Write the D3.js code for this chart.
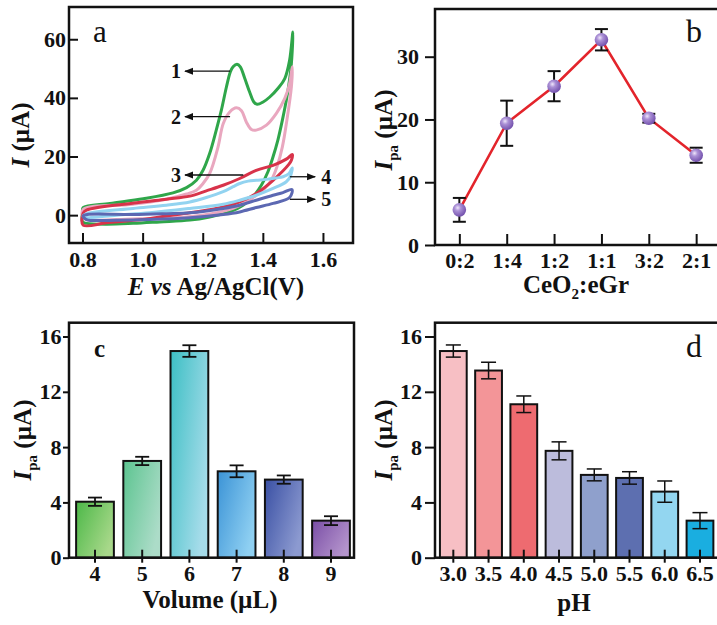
<!DOCTYPE html>
<html><head><meta charset="utf-8">
<script src="https://cdn.jsdelivr.net/npm/d3@7"></script>
<style>
body{margin:0;background:#fff}
svg{display:block}
text{font-family:"Liberation Serif","Times New Roman",serif}
</style>
</head><body>
<svg id="chart" width="717" height="625"></svg>
<script>
// ---------------- DATA ----------------
// Panel a: cyclic voltammograms, [E (V), I (µA)] forward scan then reverse scan
const cvLabels = ["1", "2", "3", "4", "5"];
const cvColors = ["#2fa64a", "#e9a7bf", "#d8334a", "#92d3f0", "#5c68b2"];
const cv1 = [[0.80,-2.3],[0.80,1.0],[0.802,2.6],[0.891,4.0],[1.002,5.6],[1.101,7.6],[1.146,9.4],[1.179,11.9],[1.201,15.3],[1.223,21.0],[1.245,29.0],[1.262,35.8],[1.279,43.8],[1.292,48.9],[1.301,50.6],[1.314,51.5],[1.325,50.6],[1.340,46.6],[1.356,42.0],[1.370,38.6],[1.381,37.8],[1.401,38.6],[1.423,40.3],[1.450,43.2],[1.473,46.6],[1.489,52.8],[1.500,62.5],[1.494,50.6],[1.480,40.3],[1.465,32.4],[1.450,25.6],[1.434,19.9],[1.417,14.8],[1.395,10.2],[1.367,6.25],[1.334,3.4],[1.290,1.1],[1.223,-0.6],[1.157,-1.7],[1.057,-2.3],[0.968,-2.8],[0.880,-3.1],[0.813,-2.8]];
const cv2 = [[0.802,-0.6],[0.802,1.9],[0.968,3.75],[1.079,5.45],[1.146,7.2],[1.179,8.5],[1.201,10.8],[1.223,14.2],[1.251,23.3],[1.268,31.2],[1.290,35.2],[1.312,36.6],[1.329,35.6],[1.345,31.8],[1.362,29.2],[1.378,29.0],[1.412,30.7],[1.445,34.7],[1.473,39.8],[1.489,44.9],[1.498,50.6],[1.495,43.75],[1.480,32.4],[1.465,23.3],[1.447,16.5],[1.428,11.9],[1.406,9.1],[1.378,6.8],[1.345,4.5],[1.301,2.3],[1.234,0.6],[1.146,-0.6],[1.024,-1.1],[0.913,-1.5],[0.813,-1.5]];
const cv3 = [[0.802,0.6],[0.813,1.7],[0.980,4.2],[1.079,5.45],[1.157,6.5],[1.212,8.3],[1.268,10.2],[1.323,12.5],[1.378,15.3],[1.434,17.0],[1.478,19.1],[1.498,20.7],[1.495,18.75],[1.487,17.4],[1.434,11.9],[1.378,7.4],[1.323,4.5],[1.268,2.8],[1.212,1.7],[1.157,0.8],[1.079,-0.3],[0.980,-1.7],[0.880,-2.6],[0.802,-3.4]];
const cv4 = [[0.802,-0.3],[0.816,0.6],[0.968,2.3],[1.079,3.4],[1.157,4.5],[1.212,6.0],[1.268,8.0],[1.301,9.7],[1.323,10.8],[1.351,11.6],[1.378,11.9],[1.412,12.2],[1.445,12.7],[1.467,13.1],[1.487,14.2],[1.498,16.1],[1.491,13.1],[1.478,11.4],[1.434,9.1],[1.378,6.8],[1.323,5.1],[1.268,3.75],[1.157,2.3],[1.024,0.8],[0.913,0.0],[0.813,-0.8]];
const cv5 = [[0.802,-0.3],[0.816,0.2],[0.968,0.2],[1.079,0.5],[1.157,0.8],[1.268,2.3],[1.323,3.4],[1.378,5.1],[1.434,6.8],[1.467,7.7],[1.497,8.75],[1.489,6.0],[1.434,4.0],[1.378,2.6],[1.323,1.1],[1.268,0.2],[1.157,-0.9],[1.024,-1.5],[0.913,-1.7],[0.813,-1.5]];
const cvData = [cv1, cv2, cv3, cv4, cv5];
const aTicksX = [0.8, 1.0, 1.2, 1.4, 1.6];
const aTicksY = [0, 20, 40, 60];

// Panel b: CeO2:eGr ratio
const ratioCats = ["0:2", "1:4", "1:2", "1:1", "3:2", "2:1"];
const ratioVals = [5.6, 19.4, 25.3, 32.7, 20.2, 14.3];
const ratioErr  = [1.9, 3.6, 2.4, 1.7, 0.7, 1.2];
const bTicksY = [0, 10, 20, 30];

// Panel c: volume
const volCats = ["4", "5", "6", "7", "8", "9"];
const volVals = [4.05, 7.0, 14.95, 6.25, 5.65, 2.68];
const volErr  = [0.3, 0.3, 0.42, 0.43, 0.3, 0.32];
const volColorsDark  = ["#4cb848", "#5cc490", "#3cbfc4", "#3b93d6", "#3a50a4", "#7a4ea6"];
const volColorsLight = ["#a8d88a", "#acdcc8", "#a6dcea", "#8fd0f2", "#8c9ad0", "#b494cc"];

// Panel d: pH
const phCats = ["3.0", "3.5", "4.0", "4.5", "5.0", "5.5", "6.0", "6.5"];
const phVals = [14.95, 13.54, 11.1, 7.73, 5.99, 5.77, 4.78, 2.68];
const phErr  = [0.44, 0.6, 0.6, 0.65, 0.43, 0.45, 0.77, 0.58];
const phColors = ["#f7bfc4", "#f39598", "#ee6b70", "#bcbcdc", "#8fa0cc", "#5d6fb0", "#93d6f0", "#1aaee0"];
const cdTicksY = [0, 4, 8, 12, 16];

// ---------------- DRAW ----------------
const svg = d3.select("#chart");
const defs = svg.append("defs");
const TICKFONT = "22px";
const TITLEFONT = "25px";

defs.append("marker").attr("id","arrow").attr("viewBox","0 0 10 10")
  .attr("refX",9).attr("refY",5).attr("markerWidth",9).attr("markerHeight",9)
  .attr("markerUnits","userSpaceOnUse").attr("orient","auto")
  .append("path").attr("d","M0,1 L10,5 L0,9 Z").attr("fill","#111");

function styleAxis(g){
  g.select(".domain").remove();
  g.selectAll(".tick line").attr("stroke","#111").attr("stroke-width",2);
  g.selectAll(".tick text").attr("fill","#111").style("font-size",TICKFONT)
   .style("font-weight","bold").style("font-family",'"Liberation Serif",serif');
}
function frame(x0,y0,x1,y1){
  svg.append("rect").attr("x",x0).attr("y",y0).attr("width",x1-x0).attr("height",y1-y0)
    .attr("fill","none").attr("stroke","#111").attr("stroke-width",2.5);
}
function ipaLabel(cx, cy){
  const t = svg.append("text").attr("transform",`translate(${cx},${cy}) rotate(-90)`)
    .attr("text-anchor","middle").style("font-size",TITLEFONT).style("font-weight","bold").attr("fill","#111");
  t.append("tspan").style("font-style","italic").text("I");
  t.append("tspan").style("font-size","15px").attr("dy",6).text("pa");
  t.append("tspan").attr("dy",-6).text(" (µA)");
}

// ===== Panel a =====
{
  const L=69, R=353, T=7, B=243;
  const x = d3.scaleLinear().domain([0.755, 1.70]).range([L, R]);
  const y = d3.scaleLinear().domain([-9.5, 71]).range([B, T]);
  const line = d3.line().x(d=>x(d[0])).y(d=>y(d[1])).curve(d3.curveCatmullRomClosed.alpha(0.5));
  const clip = defs.append("clipPath").attr("id","clipA");
  clip.append("rect").attr("x",L).attr("y",T).attr("width",R-L).attr("height",B-T);
  const gc = svg.append("g").attr("clip-path","url(#clipA)");
  cvData.forEach((d,i)=>{
    gc.append("path").attr("d",line(d)).attr("fill","none").attr("stroke",cvColors[i])
      .attr("stroke-width",3).attr("stroke-linejoin","round");
  });
  const gx = svg.append("g").attr("transform",`translate(0,${B})`)
    .call(d3.axisBottom(x).tickValues(aTicksX).tickFormat(d3.format(".1f")).tickSize(-10).tickPadding(8));
  styleAxis(gx);
  const gy = svg.append("g").attr("transform",`translate(${L},0)`)
    .call(d3.axisLeft(y).tickValues(aTicksY).tickSize(-9).tickPadding(3));
  styleAxis(gy);
  frame(L,T,R,B);
  // labels
  svg.append("text").attr("x",93).attr("y",42).style("font-size","31px").attr("fill","#111").text("a");
  const xt = svg.append("text").attr("x",(L+R)/2+5).attr("y",295).attr("text-anchor","middle")
    .style("font-size",TITLEFONT).style("font-weight","bold").attr("fill","#111");
  xt.append("tspan").style("font-style","italic").text("E vs");
  xt.append("tspan").text(" Ag/AgCl(V)");
  const yt = svg.append("text").attr("transform",`translate(29,${(T+B)/2+10}) rotate(-90)`)
    .attr("text-anchor","middle").style("font-size",TITLEFONT).style("font-weight","bold").attr("fill","#111");
  yt.append("tspan").style("font-style","italic").text("I");
  yt.append("tspan").text(" (µA)");
  // curve annotations
  const ann = [
    {lab:cvLabels[0], x1:1.291, x2:1.141, v:49.1, side:"left"},
    {lab:cvLabels[1], x1:1.291, x2:1.141, v:33.6, side:"left"},
    {lab:cvLabels[2], x1:1.335, x2:1.141, v:13.7, side:"left"},
    {lab:cvLabels[3], x1:1.49,  x2:1.574, v:13.1, side:"right"},
    {lab:cvLabels[4], x1:1.49,  x2:1.574, v:5.4,  side:"right"}
  ];
  ann.forEach(a=>{
    svg.append("line").attr("x1",x(a.x1)).attr("x2",x(a.x2)).attr("y1",y(a.v)).attr("y2",y(a.v))
      .attr("stroke","#111").attr("stroke-width",1.3).attr("marker-end","url(#arrow)");
    svg.append("text").attr("x", a.side==="left" ? x(a.x2)-4 : x(a.x2)+6).attr("y",y(a.v)+7)
      .attr("text-anchor", a.side==="left" ? "end" : "start")
      .style("font-size","20px").style("font-weight","bold").attr("fill","#111").text(a.lab);
  });
}

// ===== Panel b =====
{
  const L=435, R=719, T=9, B=245;
  const idx = d3.scaleLinear().domain([-0.514, 5.44]).range([L, 717]);
  const y = d3.scaleLinear().domain([0, 37.6]).range([B, T]);
  const pts = ratioCats.map((c,i)=>({c, i, v:ratioVals[i], e:ratioErr[i]}));
  const rg = defs.append("radialGradient").attr("id","sphere").attr("cx","0.38").attr("cy","0.35").attr("r","0.65");
  rg.append("stop").attr("offset","0").attr("stop-color","#efe6fb");
  rg.append("stop").attr("offset","0.35").attr("stop-color","#ab91d6");
  rg.append("stop").attr("offset","1").attr("stop-color","#7452ad");
  svg.append("path").datum(pts).attr("d",d3.line().x(d=>idx(d.i)).y(d=>y(d.v)))
    .attr("fill","none").attr("stroke","#e3242b").attr("stroke-width",2.6);
  const eb = svg.append("g").attr("stroke","#111").attr("stroke-width",2);
  pts.forEach(d=>{
    const cx = idx(d.i);
    eb.append("line").attr("x1",cx).attr("x2",cx).attr("y1",y(d.v-d.e)).attr("y2",y(d.v+d.e));
    eb.append("line").attr("x1",cx-6.5).attr("x2",cx+6.5).attr("y1",y(d.v+d.e)).attr("y2",y(d.v+d.e));
    eb.append("line").attr("x1",cx-6.5).attr("x2",cx+6.5).attr("y1",y(d.v-d.e)).attr("y2",y(d.v-d.e));
  });
  svg.append("g").selectAll("circle").data(pts).join("circle")
    .attr("cx",d=>idx(d.i)).attr("cy",d=>y(d.v)).attr("r",6.8).attr("fill","url(#sphere)");
  const gx = svg.append("g").attr("transform",`translate(0,${B})`)
    .call(d3.axisBottom(idx).tickValues(d3.range(ratioCats.length)).tickFormat(i=>ratioCats[i]).tickSize(-11).tickPadding(7));
  styleAxis(gx);
  const gy = svg.append("g").attr("transform",`translate(${L},0)`)
    .call(d3.axisLeft(y).tickValues(bTicksY).tickSize(10).tickPadding(6));
  styleAxis(gy);
  frame(L,T,R,B);
  svg.append("text").attr("x",686).attr("y",42).style("font-size","32px").attr("fill","#111").text("b");
  const xt = svg.append("text").attr("x",576).attr("y",293).attr("text-anchor","middle")
    .style("font-size",TITLEFONT).style("font-weight","bold").attr("fill","#111");
  xt.append("tspan").text("CeO");
  xt.append("tspan").style("font-size","15px").attr("dy",6).text("2");
  xt.append("tspan").attr("dy",-6).text(":eGr");
  ipaLabel(392, 130);
}

// ===== Panel c =====
{
  const L=69, R=354, T=322.7, B=557.7;
  const x = d3.scaleBand().domain(volCats).range([71.4, 354.6]).paddingInner(0.2).paddingOuter(0.1);
  const y = d3.scaleLinear().domain([0, 17]).range([B, T]);
  volCats.forEach((c,i)=>{
    const g = defs.append("linearGradient").attr("id","vg"+i).attr("x1","0").attr("y1","0").attr("x2","1").attr("y2","0.6");
    g.append("stop").attr("offset","0").attr("stop-color",volColorsDark[i]);
    g.append("stop").attr("offset","1").attr("stop-color",volColorsLight[i]);
  });
  svg.append("g").selectAll("rect").data(volCats).join("rect")
    .attr("x",d=>x(d)).attr("width",x.bandwidth()).attr("y",(d,i)=>y(volVals[i]))
    .attr("height",(d,i)=>B-y(volVals[i])).attr("fill",(d,i)=>`url(#vg${i})`)
    .attr("stroke","#111").attr("stroke-width",2);
  const eb = svg.append("g").attr("stroke","#111").attr("stroke-width",1.8);
  volCats.forEach((c,i)=>{
    const cx = x(c)+x.bandwidth()/2, v=volVals[i], e=volErr[i];
    eb.append("line").attr("x1",cx).attr("x2",cx).attr("y1",y(v-e)).attr("y2",y(v+e));
    eb.append("line").attr("x1",cx-7).attr("x2",cx+7).attr("y1",y(v+e)).attr("y2",y(v+e));
    eb.append("line").attr("x1",cx-7).attr("x2",cx+7).attr("y1",y(v-e)).attr("y2",y(v-e));
  });
  const gx = svg.append("g").attr("transform",`translate(0,${B})`)
    .call(d3.axisBottom(x).tickSize(5).tickPadding(3));
  styleAxis(gx);
  gx.selectAll(".tick line").attr("y1",-8);
  const gy = svg.append("g").attr("transform",`translate(${L},0)`)
    .call(d3.axisLeft(y).tickValues(cdTicksY).tickSize(6).tickPadding(1.5));
  styleAxis(gy);
  frame(L,T,R,B);
  svg.append("text").attr("x",94).attr("y",357).style("font-size","25px").style("font-weight","bold").attr("fill","#111").text("c");
  svg.append("text").attr("x",210).attr("y",608).attr("text-anchor","middle")
    .style("font-size",TITLEFONT).style("font-weight","bold").attr("fill","#111").text("Volume (µL)");
  ipaLabel(31, 440);
}

// ===== Panel d =====
{
  const L=435, R=719, T=322.7, B=557.7;
  const x = d3.scaleBand().domain(phCats).range([435.7, 717.6]).paddingInner(0.24).paddingOuter(0.12);
  const y = d3.scaleLinear().domain([0, 17]).range([B, T]);
  svg.append("g").selectAll("rect").data(phCats).join("rect")
    .attr("x",d=>x(d)).attr("width",x.bandwidth()).attr("y",(d,i)=>y(phVals[i]))
    .attr("height",(d,i)=>B-y(phVals[i])).attr("fill",(d,i)=>phColors[i])
    .attr("stroke","#111").attr("stroke-width",2);
  const eb = svg.append("g").attr("stroke","#111").attr("stroke-width",1.5);
  phCats.forEach((c,i)=>{
    const cx = x(c)+x.bandwidth()/2, v=phVals[i], e=phErr[i];
    eb.append("line").attr("x1",cx).attr("x2",cx).attr("y1",y(v-e)).attr("y2",y(v+e));
    eb.append("line").attr("x1",cx-7.5).attr("x2",cx+7.5).attr("y1",y(v+e)).attr("y2",y(v+e));
    eb.append("line").attr("x1",cx-7.5).attr("x2",cx+7.5).attr("y1",y(v-e)).attr("y2",y(v-e));
  });
  const gx = svg.append("g").attr("transform",`translate(0,${B})`)
    .call(d3.axisBottom(x).tickSize(5).tickPadding(3));
  styleAxis(gx);
  gx.selectAll(".tick line").attr("y1",-8);
  const gy = svg.append("g").attr("transform",`translate(${L},0)`)
    .call(d3.axisLeft(y).tickValues(cdTicksY).tickSize(10).tickPadding(3));
  styleAxis(gy);
  frame(L,T,R,B);
  svg.append("text").attr("x",686).attr("y",357).style("font-size","32px").attr("fill","#111").text("d");
  svg.append("text").attr("x",574).attr("y",611).attr("text-anchor","middle")
    .style("font-size",TITLEFONT).style("font-weight","bold").attr("fill","#111").text("pH");
  ipaLabel(392, 440);
}
</script>
</body></html>
